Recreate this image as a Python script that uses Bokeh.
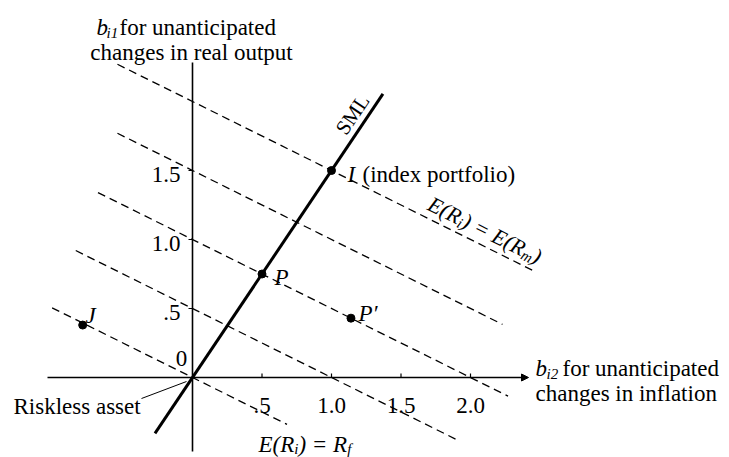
import math
from bokeh.plotting import figure
from bokeh.models import Range1d, Arrow, NormalHead
from bokeh.embed import file_html
from bokeh.resources import INLINE
from bokeh.core.properties import value

# ---------------- data ----------------
x_ticks = [0.5, 1.0, 1.5, 2.0]
x_tick_labels = [".5", "1.0", "1.5", "2.0"]
y_ticks = [0.5, 1.0, 1.5]
y_tick_labels = [".5", "1.0", "1.5"]

sml_slope = 1.5
sml_x = [-0.27, 1.37]

iso_slope = -0.5
iso_intercepts = [2.0, 1.5, 1.0, 0.5, 0.0]
iso_x_start = [-0.54, -0.54, -0.68, -0.84, -1.01]
iso_x_end = [2.45, 2.23, 2.27, 1.91, 0.68]

point_names = ["I", "P", "P′", "J"]
point_b2 = [1.0, 0.5, 1.14, -0.79]
point_b1 = [1.5, 0.75, 0.43, 0.38]

# ---------------- layout ----------------
W, H = 729, 457
OX, OY = 192, 377          # page pixel of the origin
SX, SY = 139.0, 138.0      # pixels per unit
FS = 23                    # main font size (px)
SS = 15                    # subscript font size (px)


def dx(px):
    return (px - OX) / SX


def dy(py):
    return (OY - py) / SY


p = figure(width=W, height=H,
           x_range=Range1d(dx(0), dx(W)), y_range=Range1d(dy(H), dy(0)),
           output_backend="svg", toolbar_location=None, min_border=0,
           x_axis_location=None, y_axis_location=None,
           outline_line_color=None, background_fill_color="white",
           border_fill_color="white")
p.grid.visible = False

FONT = "Liberation Serif"


def txt(x, y, s, size=FS, italic=False, align="left", baseline="alphabetic", angle=0.0):
    p.text(x=[x], y=[y], text=[s], text_font=value(FONT),
           text_font_size=value(f"{size}px"),
           text_font_style=value("italic" if italic else "normal"),
           text_align=value(align), text_baseline=value(baseline),
           angle=angle, angle_units="deg", text_color="black")


WID = {"E": 611, "(": 333, "R": 611, ")": 333, " ": 250, "=": 675,
       "i": 278, "m": 722, "f": 278, "b": 500, "1": 500, "2": 500}


def compose(x0, y0, ang, pieces):
    a = math.radians(ang)
    ux, uy = math.cos(a), -math.sin(a)
    nx, ny = math.sin(a), math.cos(a)
    pos = 0.0
    for s, size, drop, italic in pieces:
        px = x0 + pos * ux + drop * nx
        py = y0 + pos * uy + drop * ny
        txt(dx(px), dy(py), s, size, italic, angle=ang)
        pos += sum(WID.get(c, 500) for c in s) / 1000.0 * size


# axes
p.add_layout(Arrow(x_start=dx(47), y_start=0, x_end=dx(528), y_end=0,
                   line_width=1.6, line_color="black",
                   end=NormalHead(size=7, fill_color="black", line_color="black")))
p.line([0, 0], [dy(451), dy(62)], line_width=1.6, line_color="black")

# ticks
tk = 4.0
p.segment(x0=x_ticks, y0=[0] * len(x_ticks), x1=x_ticks, y1=[tk / SY] * len(x_ticks),
          line_color="black", line_width=1.2)
p.segment(x0=[0] * len(y_ticks), y0=y_ticks, x1=[-tk / SX] * len(y_ticks), y1=y_ticks,
          line_color="black", line_width=1.2)

p.text(x=x_ticks, y=[dy(405)] * len(x_ticks), text=x_tick_labels,
       text_font=value(FONT), text_font_size=value(f"{FS}px"),
       text_align="center", text_baseline="alphabetic", text_color="black")
p.text(x=[dx(180)] * len(y_ticks), y=[t - 4 / SY for t in y_ticks], text=y_tick_labels,
       text_font=value(FONT), text_font_size=value(f"{FS}px"),
       text_align="right", text_baseline="middle", text_color="black")
txt(dx(181), dy(358), "0", FS, align="center", baseline="middle")

# iso-return dashed lines
xs = [[a, b] for a, b in zip(iso_x_start, iso_x_end)]
ys = [[c + iso_slope * a, c + iso_slope * b]
      for c, a, b in zip(iso_intercepts, iso_x_start, iso_x_end)]
p.multi_line(xs=xs, ys=ys, line_color="black", line_width=1.3, line_dash="8 5")

# SML
p.line(sml_x, [sml_slope * v for v in sml_x], line_color="black", line_width=3)

# points
p.scatter(point_b2, point_b1, size=8, color="black")

# point labels
txt(dx(347), dy(174), "I", FS, True)
txt(dx(362), dy(174), "(index portfolio)", FS)
txt(dx(274), dy(277), "P", FS, True)
txt(dx(358), dy(313), "P′", FS, True)
txt(dx(85), dy(315), "J", FS, True)

# SML label
txt(dx(352), dy(114), "SML", 21, align="center", baseline="middle",
    angle=math.degrees(math.atan(sml_slope * SY / SX)))

# iso-line labels
ang_iso = math.degrees(math.atan(iso_slope * SY / SX))
compose(429, 202, ang_iso, [("E(R", 22, 0, True), ("i", SS, 5, True),
                            (") = E(R", 22, 0, True), ("m", SS, 5, True),
                            (")", 22, 0, True)])
compose(258, 444, 0, [("E(R", FS, 0, True), ("i", SS, 4, True),
                      (") = R", FS, 0, True), ("f", SS, 4, True)])

# axis titles
txt(dx(96), dy(27), "b", FS, True)
txt(dx(106), dy(32), "i1", SS, True)
txt(dx(119), dy(27), "for unanticipated", FS)
txt(dx(191), dy(52), "changes in real output", FS, align="center")

txt(dx(535), dy(368), "b", FS, True)
txt(dx(546), dy(373), "i2", SS, True)
txt(dx(562), dy(368), "for unanticipated", FS)
txt(dx(535), dy(393), "changes in inflation", FS)

# riskless asset
txt(dx(13), dy(406), "Riskless asset", FS)
p.line([dx(141), dx(186)], [dy(398), dy(381)], line_color="black", line_width=1)

open("out.html", "w").write(file_html(p, INLINE))
